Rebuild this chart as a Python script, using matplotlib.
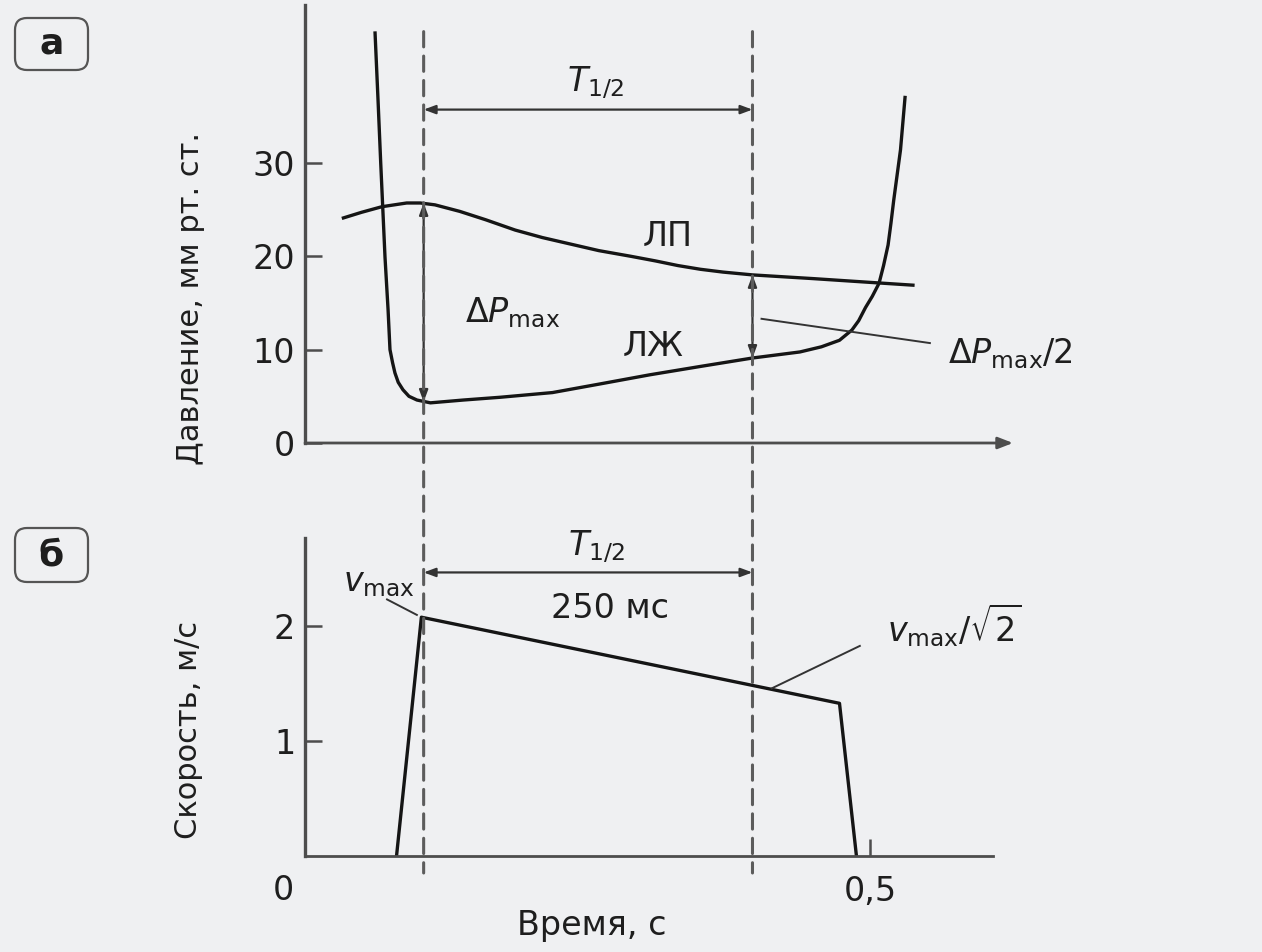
import matplotlib
matplotlib.use("Agg")
import matplotlib.pyplot as plt
from matplotlib.patches import ConnectionPatch, FancyBboxPatch

plt.rcParams['font.family'] = ['DejaVu Sans']
plt.rcParams['mathtext.fontset'] = 'dejavusans'

# --- data ---
# left atrium (ЛП) pressure, mm Hg
la_t = [0.034, 0.050, 0.068, 0.090, 0.102, 0.115, 0.137, 0.160, 0.186, 0.210, 0.235, 0.260,
        0.288, 0.310, 0.330, 0.350, 0.370, 0.396, 0.450, 0.500, 0.538]
la_p = [24.1, 24.7, 25.3, 25.7, 25.7, 25.5, 24.8, 23.9, 22.8, 22.0, 21.3, 20.6,
        20.0, 19.5, 19.0, 18.6, 18.3, 18.0, 17.6, 17.2, 16.9]

# left ventricle (ЛЖ) pressure, mm Hg
lv_t = [0.062, 0.0646, 0.067, 0.0708, 0.0735, 0.0752, 0.0775, 0.0796, 0.0825, 0.0867, 0.0920,
        0.0991, 0.111, 0.140, 0.173, 0.219, 0.260, 0.305, 0.350, 0.396, 0.438, 0.457, 0.473,
        0.484, 0.490, 0.496, 0.502, 0.508, 0.512, 0.516, 0.5185, 0.521, 0.524, 0.527, 0.531]
lv_p = [43.9, 36.8, 30.0, 19.9, 14.3, 10.0, 8.6, 7.5, 6.5, 5.7, 5.0,
        4.6, 4.3, 4.6, 4.9, 5.4, 6.3, 7.3, 8.2, 9.1, 9.75, 10.3, 11.0,
        12.1, 13.1, 14.5, 15.7, 17.1, 19.0, 21.2, 23.5, 26.0, 28.7, 31.4, 37.0]

# mitral flow velocity, m/s
vel_t = [0.081, 0.103, 0.473, 0.488]
vel_v = [0.0, 2.08, 1.33, 0.0]

t_half = [0.105, 0.396]          # start / end of pressure half-time
dp_max = [25.7, 4.4]             # ΔPmax arrow ends
dp_half = [18.0, 9.1]            # ΔPmax/2 arrow ends

p_ticks = [0, 10, 20, 30]
v_ticks = [1, 2]

# --- style ---
ink = '#151515'
axc = '#4d4d4d'
dash = '#5c5c5c'
bg = '#eff0f2'
fs = 24

W, H = 1262, 952
fig = plt.figure(figsize=(W / 100, H / 100), dpi=100, facecolor=bg)

x_end = (1013 - 305) / 1130
ax1 = fig.add_axes([305 / W, (H - 443) / H, 708 / W, 438 / H])
ax2 = fig.add_axes([305 / W, (H - 856) / H, 708 / W, 318 / H])

for ax in (ax1, ax2):
    ax.set_facecolor('none')
    ax.set_xlim(0, x_end)
    for s in ('top', 'right'):
        ax.spines[s].set_visible(False)
    ax.spines['left'].set_color(axc)
    ax.spines['left'].set_linewidth(2.4)
    ax.spines['bottom'].set_color(axc)
    ax.spines['bottom'].set_linewidth(2.0)
    ax.tick_params(axis='y', direction='in', length=12, width=1.8, color=axc,
                   labelsize=fs, pad=7, labelcolor='#1e1e1e')
    ax.tick_params(axis='x', direction='in', length=12, width=1.8, color=axc,
                   labelsize=fs, pad=14, labelcolor='#1e1e1e')

# ---- panel а : pressures ----
ax1.set_ylim(0, 46.9)
ax1.set_yticks(p_ticks)
ax1.set_xticks([])
ax1.spines['bottom'].set_visible(False)
ax1.annotate('', xy=(1, 0), xytext=(0, 0), xycoords='axes fraction',
             arrowprops=dict(arrowstyle='-|>,head_length=0.9,head_width=0.35',
                             color=axc, lw=2.0, shrinkA=0, shrinkB=0), annotation_clip=False)

ax1.plot(la_t, la_p, color=ink, lw=2.4, solid_joinstyle='round')
ax1.plot(lv_t, lv_p, color=ink, lw=2.4, solid_joinstyle='round')

arr = dict(arrowstyle='<|-|>,head_length=0.7,head_width=0.26', color='#333333', lw=1.6,
           shrinkA=0, shrinkB=0)
ax1.annotate('', xy=(t_half[0], 35.7), xytext=(t_half[1], 35.7), arrowprops=arr)
ax1.annotate('', xy=(t_half[0], dp_max[0]), xytext=(t_half[0], dp_max[1]), arrowprops=arr)
ax1.annotate('', xy=(t_half[1], dp_half[0]), xytext=(t_half[1], dp_half[1]), arrowprops=arr)
ax1.plot([0.404, 0.553], [13.3, 10.7], color='#333333', lw=1.4)

ax1.text(0.257, 38.6, r'$T_{1/2}$', fontsize=fs, ha='center', va='center', color='#1e1e1e')
ax1.text(0.184, 14.0, r'$\Delta P_{\mathrm{max}}$', fontsize=fs, ha='center', va='center', color='#1e1e1e')
ax1.text(0.569, 9.6, r'$\Delta P_{\mathrm{max}}/2$', fontsize=fs, ha='left', va='center', color='#1e1e1e')
ax1.text(0.321, 22.1, 'ЛП', fontsize=fs, ha='center', va='center', color='#1e1e1e')
ax1.text(0.308, 10.3, 'ЛЖ', fontsize=fs, ha='center', va='center', color='#1e1e1e')

ax1.set_ylabel('Давление, мм рт. ст.', fontsize=22, color='#1e1e1e', va='center')
ax1.yaxis.set_label_coords(-0.162, 0.331)

# ---- panel б : velocity ----
ax2.set_ylim(0, 2.77)
ax2.set_yticks(v_ticks)
ax2.set_xticks([0.5])
ax2.set_xticklabels(['0,5'])
ax2.spines['bottom'].set_bounds(0, (993 - 305) / 1130)

ax2.plot(vel_t, vel_v, color=ink, lw=2.4)

ax2.annotate('', xy=(t_half[0], 2.47), xytext=(t_half[1], 2.47), arrowprops=arr)
ax2.plot([0.0726, 0.099], [2.235, 2.10], color='#333333', lw=1.4)
ax2.plot([0.413, 0.491], [1.46, 1.83], color='#333333', lw=1.4)

ax2.text(0.2575, 2.69, r'$T_{1/2}$', fontsize=fs, ha='center', va='center', color='#1e1e1e')
ax2.text(0.27, 2.16, '250 мс', fontsize=fs, ha='center', va='center', color='#1e1e1e')
ax2.text(0.097, 2.38, r'$v_{\mathrm{max}}$', fontsize=fs, ha='right', va='center', color='#1e1e1e')
ax2.text(0.515, 2.01, r'$v_{\mathrm{max}}/\sqrt{2}$', fontsize=fs, ha='left', va='center', color='#1e1e1e')
ax2.text(-0.019, -0.30, '0', fontsize=fs, ha='center', va='center', color='#1e1e1e')

ax2.set_ylabel('Скорость, м/с', fontsize=22, color='#1e1e1e', va='center')
ax2.yaxis.set_label_coords(-0.165, 0.396)
ax2.set_xlabel('Время, с', fontsize=fs, color='#1e1e1e', va='center')
ax2.xaxis.set_label_coords(0.405, -0.217)

# dashed guide lines through both panels
for t in t_half:
    con = ConnectionPatch(xyA=(t, 44.05), coordsA=ax1.transData,
                          xyB=(t, -0.148), coordsB=ax2.transData,
                          color=dash, lw=2.2, linestyle=(0, (5, 3)))
    fig.add_artist(con)

# panel letters in rounded boxes
for letter, y_bot, h in (('а', 8.82, 0.52), ('б', 3.70, 0.54)):
    box = FancyBboxPatch((0.15, y_bot), 0.73, h, boxstyle='round,pad=0,rounding_size=0.12',
                         transform=fig.dpi_scale_trans, fc='none', ec='#555555', lw=1.6)
    fig.add_artist(box)
    fig.text(0.515, y_bot + h / 2, letter, transform=fig.dpi_scale_trans, fontsize=26,
             fontweight='bold', ha='center', va='center', color='#1e1e1e')

fig.savefig('out.png', dpi=100, facecolor=bg)
